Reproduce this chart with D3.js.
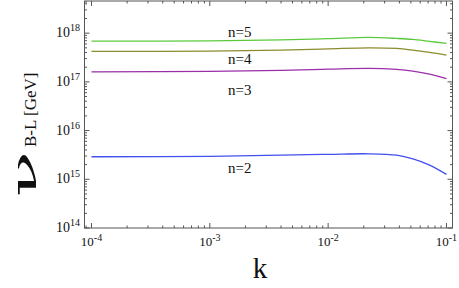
<!DOCTYPE html>
<html>
<head>
<meta charset="utf-8">
<script src="https://cdn.jsdelivr.net/npm/d3@7"></script>
<style>
  body { margin: 0; background: #fff; }
  text { font-family: "Liberation Serif", "Times New Roman", serif; fill: #111; }
</style>
</head>
<body>
<div class="chart"></div>
<script>
// data
const kValues = [1e-4, 1e-3, 0.004, 0.01, 0.022, 0.038, 0.052, 0.072, 0.1];
const n2 = [2.90e15, 2.96e15, 3.14e15, 3.25e15, 3.34e15, 3.12e15, 2.62e15, 1.96e15, 1.26e15];
const n3 = [1.61e17, 1.64e17, 1.72e17, 1.82e17, 1.89e17, 1.80e17, 1.66e17, 1.44e17, 1.16e17];
const n4 = [4.22e17, 4.28e17, 4.48e17, 4.75e17, 4.99e17, 4.85e17, 4.48e17, 4.02e17, 3.54e17];
const n5 = [6.86e17, 6.95e17, 7.29e17, 7.70e17, 8.17e17, 7.79e17, 7.43e17, 6.76e17, 6.15e17];
const seriesNames = ['n=2', 'n=3', 'n=4', 'n=5'];
const xTickExp = [-4, -3, -2, -1];
const yTickExp = [14, 15, 16, 17, 18];

const width = 459, height = 288;
const padL = 84.5, padR = 452.5, padT = 1, padB = 228;

const series = [
  {name: seriesNames[0], vals: n2, color: '#4150ee', lx: 228, ly: 173},
  {name: seriesNames[1], vals: n3, color: '#9a2fa8', lx: 228, ly: 95},
  {name: seriesNames[2], vals: n4, color: '#8c8c2e', lx: 228, ly: 64},
  {name: seriesNames[3], vals: n5, color: '#5cc93c', lx: 228, ly: 37},
];

const svg = d3.select('.chart').append('svg')
    .attr('width', width)
    .attr('height', height);

const x = d3.scaleLog().domain([Math.pow(10, -4.059), Math.pow(10, -0.949)]).range([padL, padR]);
const y = d3.scaleLog().domain([1e14, Math.pow(10, 18.66)]).range([padB, padT]);

// minor/major ticks
let xMinor = [], yMinor = [];
for (let e = -5; e <= -1; e++) for (let m = 2; m <= 9; m++) {
  const v = m * Math.pow(10, e);
  if (v > x.domain()[0] && v < x.domain()[1]) xMinor.push(v);
}
for (let e = 14; e <= 18; e++) for (let m = 2; m <= 9; m++) {
  const v = m * Math.pow(10, e);
  if (v < y.domain()[1]) yMinor.push(v);
}
const xMajor = xTickExp.map(e => Math.pow(10, e));
const yMajor = yTickExp.map(e => Math.pow(10, e));

const tickColor = '#555';
const g = svg.append('g');

function hTicks(vals, len) {
  vals.forEach(v => {
    g.append('line').attr('x1', x(v)).attr('x2', x(v)).attr('y1', padB).attr('y2', padB - len).attr('stroke', tickColor);
    g.append('line').attr('x1', x(v)).attr('x2', x(v)).attr('y1', padT).attr('y2', padT + len).attr('stroke', tickColor);
  });
}
function vTicks(vals, len) {
  vals.forEach(v => {
    g.append('line').attr('y1', y(v)).attr('y2', y(v)).attr('x1', padL).attr('x2', padL + len).attr('stroke', tickColor);
    g.append('line').attr('y1', y(v)).attr('y2', y(v)).attr('x1', padR).attr('x2', padR - len).attr('stroke', tickColor);
  });
}
hTicks(xMajor, 5); hTicks(xMinor, 2.5);
vTicks(yMajor, 5); vTicks(yMinor, 2.5);

// curves
const line = d3.line()
    .x((d, i) => x(kValues[i]))
    .y(d => y(d))
    .curve(d3.curveCatmullRom.alpha(0.5));

svg.selectAll('path.curve')
  .data(series)
  .enter().append('path')
    .attr('class', 'curve')
    .attr('d', d => line(d.vals))
    .attr('fill', 'none')
    .attr('stroke', d => d.color)
    .attr('stroke-width', 1.3);

svg.selectAll('text.lab')
  .data(series)
  .enter().append('text')
    .attr('class', 'lab')
    .attr('x', d => d.lx)
    .attr('y', d => d.ly)
    .style('font-size', '15px')
    .text(d => d.name);

// frame
svg.append('rect')
    .attr('x', padL).attr('y', padT)
    .attr('width', padR - padL).attr('height', padB - padT)
    .attr('fill', 'none').attr('stroke', tickColor).attr('stroke-width', 1);

// tick labels
xTickExp.forEach(e => {
  const t = svg.append('text')
      .attr('x', x(Math.pow(10, e)))
      .attr('y', 246)
      .attr('text-anchor', 'middle')
      .style('font-size', '13px');
  t.append('tspan').text('10');
  t.append('tspan').attr('dy', -5).style('font-size', '10px').text(e < 0 ? '-' + (-e) : e);
});
yTickExp.forEach(e => {
  const t = svg.append('text')
      .attr('x', 80)
      .attr('y', y(Math.pow(10, e)) + 4)
      .attr('text-anchor', 'end')
      .style('font-size', '14px');
  t.append('tspan').text('10');
  t.append('tspan').attr('dy', -6).style('font-size', '10px').text(e);
});

// axis titles
svg.append('text')
    .attr('x', 260).attr('y', 278)
    .attr('text-anchor', 'middle')
    .style('font-size', '29px')
    .text('k');

const yl = svg.append('g').attr('transform', 'translate(36,197) rotate(-90)');
yl.append('text')
    .attr('x', 0).attr('y', 0)
    .attr('textLength', 46).attr('lengthAdjust', 'spacingAndGlyphs')
    .style('font-family', '"DejaVu Serif", serif')
    .style('font-size', '34px')
    .text('ν');
yl.append('text')
    .attr('x', 50).attr('y', 0)
    .style('font-size', '17px')
    .text('B-L [GeV]');
</script>
</body>
</html>
